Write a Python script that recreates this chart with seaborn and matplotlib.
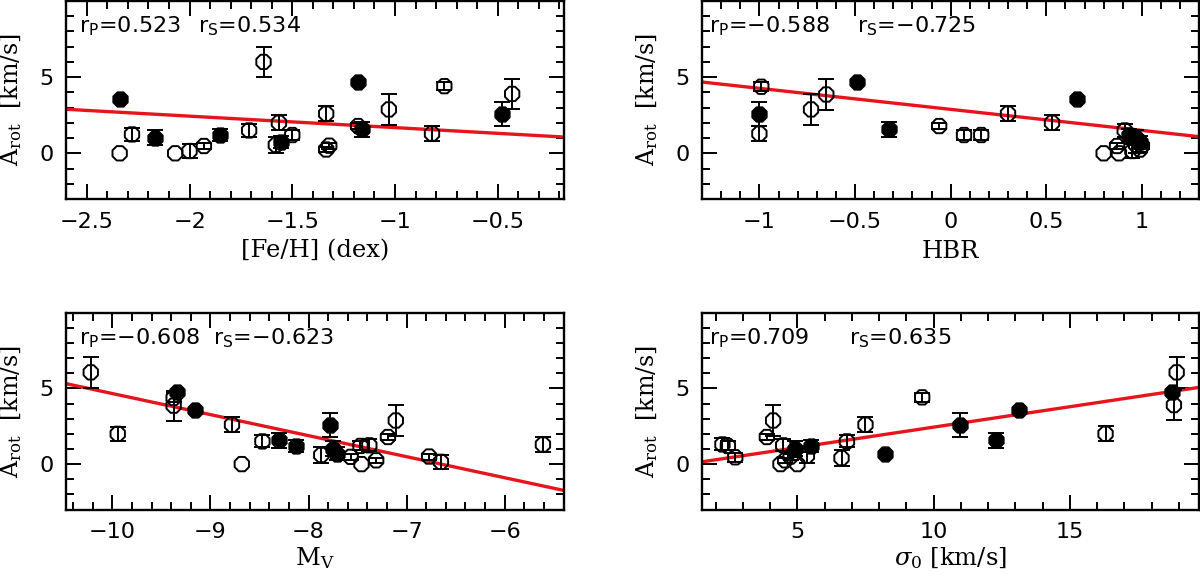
import numpy as np
import pandas as pd
import seaborn as sns
import matplotlib
matplotlib.use("Agg")
import matplotlib.pyplot as plt
from matplotlib.ticker import MultipleLocator, FixedLocator, FuncFormatter

# -------- data --------
# panel 1: [Fe/H]
feh_x = [-2.34, -2.34, -2.28, -2.17, -2.07, -2.00, -1.93, -1.85, -1.71, -1.64, -1.565, -1.58, -1.555,
         -1.50, -1.335, -1.335, -1.32, -1.18, -1.18, -1.16, -1.03, -0.82, -0.76, -0.48, -0.43]
feh_arot = [3.58, 0.0, 1.24, 1.03, 0.0, 0.15, 0.48, 1.2, 1.5, 6.0, 2.0, 0.55, 0.74,
            1.2, 2.6, 0.25, 0.5, 4.7, 1.79, 1.57, 2.88, 1.29, 4.41, 2.6, 3.9]
feh_err = [0.0, 0.0, 0.4, 0.48, 0.0, 0.48, 0.22, 0.38, 0.4, 1.0, 0.5, 0.5, 0.4,
           0.3, 0.5, 0.15, 0.2, 0.0, 0.2, 0.48, 1.0, 0.5, 0.25, 0.8, 1.0]
feh_filled = [1, 0, 0, 1, 0, 0, 0, 1, 0, 0, 0, 0, 1, 0, 0, 0, 0, 1, 0, 1, 0, 0, 0, 1, 0]

# panel 2: HBR
hbr_x = [-0.99, -1.0, -1.0, -0.73, -0.65, -0.49, -0.32, -0.06, 0.07, 0.16, 0.30, 0.53, 0.66,
         0.80, 0.88, 0.87, 0.91, 0.93, 0.97, 0.99, 0.95, 0.97, 0.99, 1.0]
hbr_arot = [4.37, 2.6, 1.29, 2.88, 3.86, 4.7, 1.57, 1.79, 1.2, 1.2, 2.6, 2.0, 3.58,
            0.0, 0.0, 0.48, 1.5, 1.2, 1.03, 0.74, 0.15, 0.55, 0.25, 0.5]
hbr_err = [0.3, 0.8, 0.5, 1.0, 1.0, 0.0, 0.48, 0.2, 0.3, 0.3, 0.5, 0.5, 0.0,
           0.0, 0.0, 0.22, 0.4, 0.38, 0.48, 0.4, 0.48, 0.5, 0.15, 0.2]
hbr_filled = [0, 1, 0, 0, 0, 1, 1, 0, 0, 0, 0, 0, 1, 0, 0, 0, 0, 1, 1, 1, 0, 0, 0, 0]

# panel 3: M_V
mv_x = [-10.22, -9.945, -9.375, -9.375, -9.345, -9.16, -8.78, -8.68, -8.47, -8.30, -8.13, -7.87, -7.78,
        -7.755, -7.71, -7.57, -7.47, -7.38, -7.46, -7.31, -7.19, -7.11, -6.77, -6.65, -5.61]
mv_arot = [6.06, 2.0, 4.37, 3.86, 4.74, 3.58, 2.6, 0.0, 1.5, 1.57, 1.2, 0.6, 2.6,
           1.03, 0.7, 0.48, 1.2, 1.24, 0.0, 0.25, 1.79, 2.88, 0.5, 0.15, 1.29]
mv_err = [1.0, 0.45, 0.3, 1.0, 0.0, 0.0, 0.5, 0.0, 0.4, 0.48, 0.38, 0.5, 0.8,
          0.48, 0.4, 0.22, 0.3, 0.4, 0.0, 0.15, 0.2, 1.0, 0.2, 0.48, 0.5]
mv_filled = [0, 0, 0, 0, 1, 1, 0, 0, 0, 1, 1, 0, 1, 1, 1, 0, 0, 0, 0, 0, 0, 0, 0, 0, 0]

# panel 4: sigma_0
sig_x = [2.25, 2.45, 2.72, 3.88, 4.11, 4.38, 4.48, 4.55, 4.75, 4.9, 5.0, 5.35, 5.49,
         6.62, 6.82, 7.5, 8.2, 9.58, 10.98, 12.3, 13.14, 16.31, 18.74, 18.92, 18.82]
sig_arot = [1.3, 1.2, 0.45, 1.79, 2.88, 0.0, 1.24, 0.25, 0.5, 1.03, 0.0, 0.55, 1.2,
            0.4, 1.5, 2.6, 0.7, 4.41, 2.6, 1.57, 3.58, 2.0, 4.74, 6.06, 3.9]
sig_err = [0.4, 0.3, 0.3, 0.2, 1.0, 0.0, 0.4, 0.15, 0.2, 0.48, 0.0, 0.5, 0.38,
           0.5, 0.4, 0.5, 0.0, 0.3, 0.8, 0.48, 0.0, 0.5, 0.0, 1.0, 1.0]
sig_filled = [0, 0, 0, 0, 0, 0, 0, 0, 0, 1, 0, 0, 1, 0, 0, 0, 1, 0, 1, 1, 1, 0, 1, 0, 0]

# linear fits (intercept, slope)
fit_intercept = [0.935, 2.885, -9.24, -0.254]
fit_slope = [-0.752, -1.38, -1.39, 0.2696]

rp_text = ["0.523", "\u22120.588", "\u22120.608", "0.709"]
rs_text = ["0.534", "\u22120.725", "\u22120.623", "0.635"]
xlabels = ["[Fe/H] (dex)", "HBR", "M$_{\\rm V}$", "$\\sigma_0$ [km/s]"]

# -------- style --------
sns.set_style("ticks", {"axes.edgecolor": "black", "xtick.color": "black", "ytick.color": "black",
                        "text.color": "black", "axes.labelcolor": "black"})
plt.rcParams["font.family"] = ["DejaVu Sans"]
plt.rcParams["mathtext.fontset"] = "custom"
plt.rcParams["mathtext.rm"] = "DejaVu Serif"
plt.rcParams["mathtext.it"] = "DejaVu Serif:italic"
plt.rcParams["mathtext.sf"] = "DejaVu Sans"

fig = plt.figure(figsize=(12, 5.79), dpi=100)

rects = [[0.0552, 0.6563, 0.4144, 0.342],
         [0.585, 0.6563, 0.4144, 0.342],
         [0.0552, 0.120, 0.4144, 0.3399],
         [0.585, 0.120, 0.4144, 0.3399]]
xlims = [(-2.6, -0.18), (-1.3, 1.3), (-10.47, -5.4), (1.5, 19.75)]
major = [0.5, 0.5, 1, 5]
minor = [0.1, 0.1, 0.2, 1]
rp_pos = [0.025, 0.015, 0.025, 0.015]
rs_pos = [0.265, 0.312, 0.296, 0.296]
xlab_y = [-0.205, -0.205, -0.18, -0.18]

panels = [(feh_x, feh_arot, feh_err, feh_filled),
          (hbr_x, hbr_arot, hbr_err, hbr_filled),
          (mv_x, mv_arot, mv_err, mv_filled),
          (sig_x, sig_arot, sig_err, sig_filled)]

fmt = FuncFormatter(lambda v, p: ("%g" % round(v, 3)).replace("-", "\u2212"))

for i, (x, y, e, f) in enumerate(panels):
    ax = fig.add_axes(rects[i])
    df = pd.DataFrame({"x": x, "y": y, "err": e, "filled": f})

    xl = np.array(xlims[i])
    fit = pd.DataFrame({"x": xl, "y": fit_intercept[i] + fit_slope[i] * xl})
    sns.lineplot(data=fit, x="x", y="y", color="#e8141c", linewidth=2.4, ax=ax, zorder=1)

    eb = df[df["err"] > 0]
    ax.errorbar(eb["x"], eb["y"], yerr=eb["err"], fmt="none", ecolor="black",
                elinewidth=1.4, capsize=5.5, capthick=1.4, zorder=2)

    sns.scatterplot(data=df[df["filled"] == 0], x="x", y="y", marker="8", s=125,
                    facecolor="none", edgecolor="black", linewidth=1.4, ax=ax, zorder=3)
    sns.scatterplot(data=df[df["filled"] == 1], x="x", y="y", marker="8", s=125,
                    color="black", edgecolor="black", linewidth=1.4, ax=ax, zorder=4)

    ax.set_xlim(xlims[i])
    ax.set_ylim(-3, 10)
    ax.xaxis.set_major_locator(MultipleLocator(major[i]))
    ax.xaxis.set_minor_locator(MultipleLocator(minor[i]))
    ax.xaxis.set_major_formatter(fmt)
    ax.yaxis.set_major_locator(FixedLocator([0, 5]))
    ax.yaxis.set_minor_locator(MultipleLocator(1))
    ax.yaxis.set_major_formatter(fmt)
    ax.tick_params(which="both", direction="in", top=True, right=True, width=1.4,
                   labelsize=16, pad=9)
    ax.tick_params(which="major", length=11)
    ax.tick_params(which="minor", length=5.5)
    for sp in ax.spines.values():
        sp.set_linewidth(1.7)

    ax.text(rp_pos[i], 0.84, "r$_\\mathsf{P}$=" + rp_text[i], transform=ax.transAxes,
            fontsize=16, va="baseline", ha="left")
    ax.text(rs_pos[i], 0.84, "r$_\\mathsf{S}$=" + rs_text[i], transform=ax.transAxes,
            fontsize=16, va="baseline", ha="left")

    ax.set_xlabel(xlabels[i], family="DejaVu Serif", fontsize=17.5)
    ax.set_ylabel("A$_{\\rm rot}$  [km/s]", family="DejaVu Serif", fontsize=17)
    ax.xaxis.set_label_coords(0.5, xlab_y[i])
    ax.yaxis.set_label_coords(-0.085, 0.5)

fig.savefig("out.png", dpi=100)
